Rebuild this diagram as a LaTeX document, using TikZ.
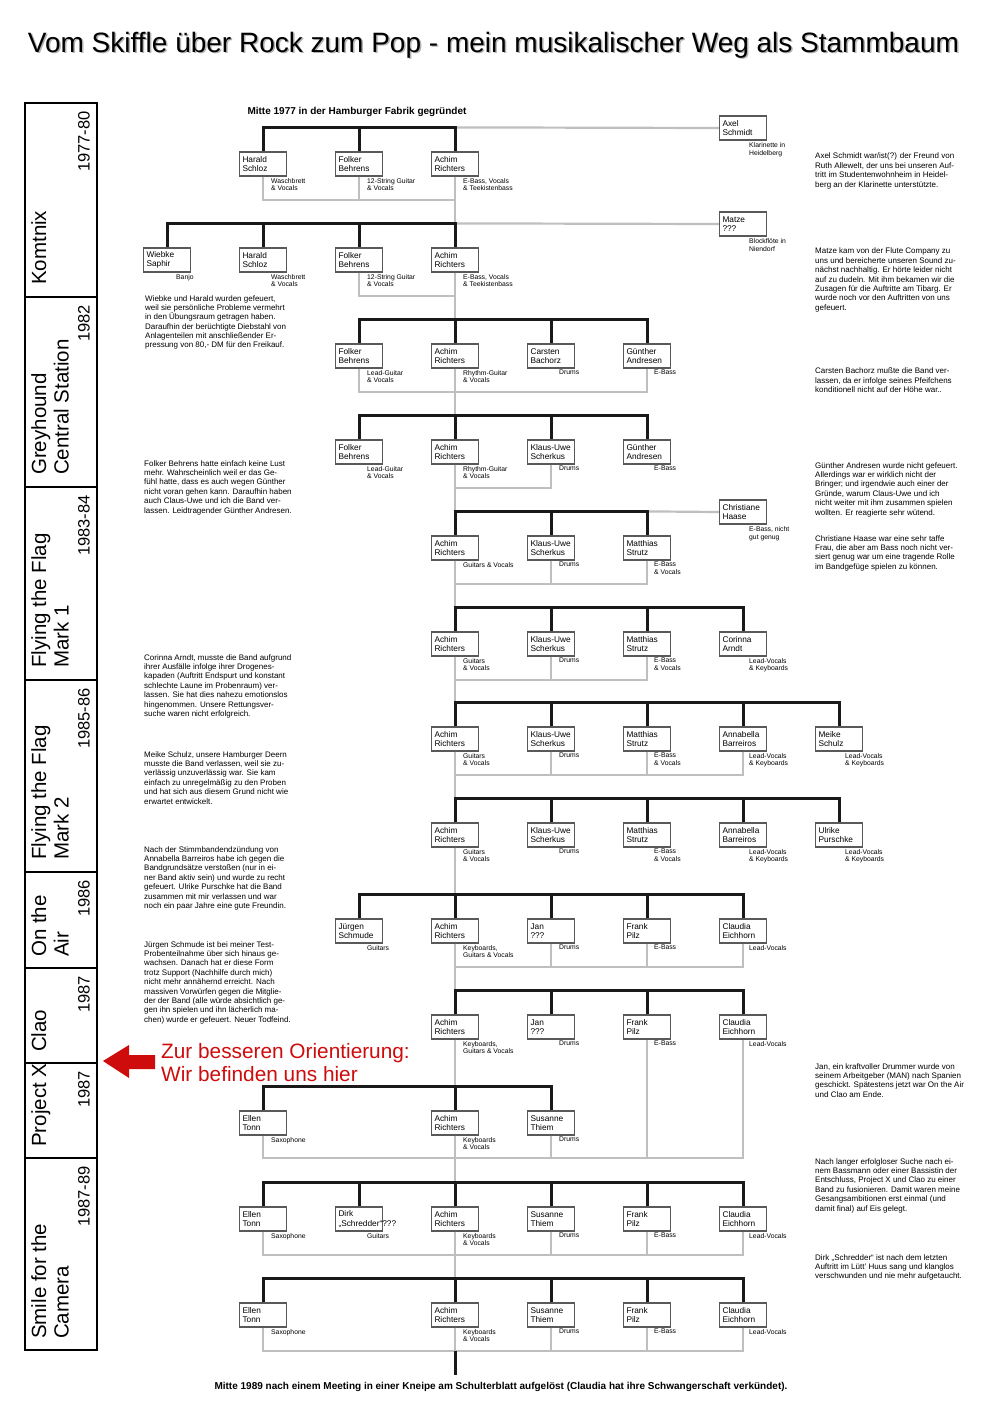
\documentclass[tikz,border=0pt]{standalone}
\usepackage{fontspec}
\setmainfont{Liberation Sans}
\usepackage{xcolor}
\usepackage{tikz}
\usetikzlibrary{positioning}
\definecolor{hintred}{RGB}{206,12,12}

\begin{document}
\begin{tikzpicture}[x=1pt, y=-1pt]
\tikzstyle{member} = [rectangle, draw=black!65, line width=1.2pt, fill=white, minimum width=47pt, minimum height=24pt, text width=41pt, inner sep=3pt, align=left, font=\fontsize{8.3}{9.3}\selectfont]
\tikzstyle{role} = [inner sep=0pt, align=left, font=\fontsize{6.8}{7.7}\selectfont]
\tikzstyle{note} = [anchor=north west, inner sep=0pt, align=left, font=\fontsize{8}{9.4}\selectfont]
\tikzstyle{headline} = [inner sep=0pt, font=\bfseries\fontsize{10}{12}\selectfont]
\tikzstyle{era} = [rotate=90, anchor=north west, inner sep=0pt, align=left, font=\fontsize{20.5}{22.5}\selectfont]
\tikzstyle{year} = [rotate=90, anchor=north east, inner sep=0pt, font=\fontsize{16.5}{18}\selectfont]
\tikzstyle{bar} = [line width=3pt, black!90]
\tikzstyle{stay} = [line width=2.2pt, black!25]

\fill [white] (0,0) rectangle (1002,1410);
\useasboundingbox (0,0) rectangle (1002,1410);

% Title
\node (titleshade) [font=\fontsize{28}{30}\selectfont, text=black!30] at (495,46.5) {Vom Skiffle über Rock zum Pop - mein musikalischer Weg als Stammbaum};
\node (title) [font=\fontsize{28}{30}\selectfont] at (493.5,45) {Vom Skiffle über Rock zum Pop - mein musikalischer Weg als Stammbaum};

% Side bar with the bands
\draw [line width=2.6pt] (25,103) rectangle (97,1350);
\draw [line width=2pt] (25,297) -- (97,297);
\draw [line width=2pt] (25,487) -- (97,487);
\draw [line width=2pt] (25,680) -- (97,680);
\draw [line width=2pt] (25,872) -- (97,872);
\draw [line width=2pt] (25,968) -- (97,968);
\draw [line width=2pt] (25,1063) -- (97,1063);
\draw [line width=2pt] (25,1158) -- (97,1158);

\node (komtnix) [era] at (31,285) {Komtnix};
\node (greyhound) [era] at (31,475) {Greyhound\\Central Station};
\node (mark1) [era] at (31,668) {Flying the Flag\\Mark 1};
\node (mark2) [era] at (31,860) {Flying the Flag\\Mark 2};
\node (ontheair) [era] at (31,957) {On the\\Air};
\node (clao) [era] at (31,1052) {Clao};
\node (projectx) [era] at (31,1147) {Project X};
\node (smile) [era] at (31,1339) {Smile for the\\Camera};

\node (year1) [year] at (78,111) {1977-80};
\node (year2) [year] at (78,305) {1982};
\node (year3) [year] at (78,495) {1983-84};
\node (year4) [year] at (78,688) {1985-86};
\node (year5) [year] at (78,880) {1986};
\node (year6) [year] at (78,976) {1987};
\node (year7) [year] at (78,1071) {1987};
\node (year8) [year] at (78,1166) {1987-89};

% Hint
\fill [hintred] (103,1061) -- (129,1045) -- (129,1055) -- (155,1055) -- (155,1069) -- (129,1069) -- (129,1078) -- cycle;
\node (hint) [anchor=west, inner sep=0pt, align=left, text=hintred, font=\fontsize{20.8}{23}\selectfont] at (161,1063) {Zur besseren Orientierung:\\Wir befinden uns hier};

% Start and end
\node (start) [headline] at (357,112) {Mitte 1977 in der Hamburger Fabrik gegründet};
\node (ende) [headline] at (501,1387) {Mitte 1989 nach einem Meeting in einer Kneipe am Schulterblatt aufgelöst (Claudia hat ihre Schwangerschaft verkündet).};

% Row 1
\node (harald1) [member] at (263,164) {Harald\\Schloz};
\node (folker1) [member] at (359,164) {Folker\\Behrens};
\node (achim1) [member] at (455,164) {Achim\\Richters};
\node (axel) [member] at (743,128) {Axel\\Schmidt};
\node (harald1r) [role, below right=1.5pt and 8pt of harald1.south] {Waschbrett\\\& Vocals};
\node (folker1r) [role, below right=1.5pt and 8pt of folker1.south] {12-String Guitar\\\& Vocals};
\node (achim1r) [role, below right=1.5pt and 8pt of achim1.south] {E-Bass, Vocals\\\& Teekistenbass};
\node (axelr) [role, below right=2pt and 6pt of axel.south] {Klarinette in\\Heidelberg};

% Row 2
\node (wiebke2) [member] at (167,260) {Wiebke\\Saphir};
\node (harald2) [member] at (263,260) {Harald\\Schloz};
\node (folker2) [member] at (359,260) {Folker\\Behrens};
\node (achim2) [member] at (455,260) {Achim\\Richters};
\node (matze) [member] at (743,224) {Matze\\???};
\node (wiebke2r) [role, below right=1.5pt and 9pt of wiebke2.south] {Banjo};
\node (harald2r) [role, below right=1.5pt and 8pt of harald2.south] {Waschbrett\\\& Vocals};
\node (folker2r) [role, below right=1.5pt and 8pt of folker2.south] {12-String Guitar\\\& Vocals};
\node (achim2r) [role, below right=1.5pt and 8pt of achim2.south] {E-Bass, Vocals\\\& Teekistenbass};
\node (matzer) [role, below right=2pt and 6pt of matze.south] {Blockflöte in\\Niendorf};

% Row 3
\node (folker3) [member] at (359,356) {Folker\\Behrens};
\node (achim3) [member] at (455,356) {Achim\\Richters};
\node (carsten3) [member] at (551,356) {Carsten\\Bachorz};
\node (guenther3) [member] at (647,356) {Günther\\Andresen};
\node (folker3r) [role, below right=1.5pt and 8pt of folker3.south] {Lead-Guitar\\\& Vocals};
\node (achim3r) [role, below right=1.5pt and 8pt of achim3.south] {Rhythm-Guitar\\\& Vocals};
\node (carsten3r) [role, below right=1.5pt and 8pt of carsten3.south] {Drums};
\node (guenther3r) [role, below right=1.5pt and 7pt of guenther3.south] {E-Bass};

% Row 4
\node (folker4) [member] at (359,452) {Folker\\Behrens};
\node (achim4) [member] at (455,452) {Achim\\Richters};
\node (klaus4) [member] at (551,452) {Klaus-Uwe\\Scherkus};
\node (guenther4) [member] at (647,452) {Günther\\Andresen};
\node (folker4r) [role, below right=1.5pt and 8pt of folker4.south] {Lead-Guitar\\\& Vocals};
\node (achim4r) [role, below right=1.5pt and 8pt of achim4.south] {Rhythm-Guitar\\\& Vocals};
\node (klaus4r) [role, below right=1.5pt and 8pt of klaus4.south] {Drums};
\node (guenther4r) [role, below right=1.5pt and 7pt of guenther4.south] {E-Bass};

% Row 5
\node (achim5) [member] at (455,548) {Achim\\Richters};
\node (klaus5) [member] at (551,548) {Klaus-Uwe\\Scherkus};
\node (matthias5) [member] at (647,548) {Matthias\\Strutz};
\node (christiane) [member] at (743,512) {Christiane\\Haase};
\node (achim5r) [role, below right=1.5pt and 8pt of achim5.south] {Guitars \& Vocals};
\node (klaus5r) [role, below right=1.5pt and 8pt of klaus5.south] {Drums};
\node (matthias5r) [role, below right=1.5pt and 7pt of matthias5.south] {E-Bass\\\& Vocals};
\node (christianer) [role, below right=2pt and 6pt of christiane.south] {E-Bass, nicht\\gut genug};

% Row 6
\node (achim6) [member] at (455,644) {Achim\\Richters};
\node (klaus6) [member] at (551,644) {Klaus-Uwe\\Scherkus};
\node (matthias6) [member] at (647,644) {Matthias\\Strutz};
\node (corinna6) [member] at (743,644) {Corinna\\Arndt};
\node (achim6r) [role, below right=1.5pt and 8pt of achim6.south] {Guitars\\\& Vocals};
\node (klaus6r) [role, below right=1.5pt and 8pt of klaus6.south] {Drums};
\node (matthias6r) [role, below right=1.5pt and 7pt of matthias6.south] {E-Bass\\\& Vocals};
\node (corinna6r) [role, below right=1.5pt and 6pt of corinna6.south] {Lead-Vocals\\\& Keyboards};

% Row 7
\node (achim7) [member] at (455,739) {Achim\\Richters};
\node (klaus7) [member] at (551,739) {Klaus-Uwe\\Scherkus};
\node (matthias7) [member] at (647,739) {Matthias\\Strutz};
\node (annabella7) [member] at (743,739) {Annabella\\Barreiros};
\node (meike7) [member] at (839,739) {Meike\\Schulz};
\node (achim7r) [role, below right=1.5pt and 8pt of achim7.south] {Guitars\\\& Vocals};
\node (klaus7r) [role, below right=1.5pt and 8pt of klaus7.south] {Drums};
\node (matthias7r) [role, below right=1.5pt and 7pt of matthias7.south] {E-Bass\\\& Vocals};
\node (annabella7r) [role, below right=1.5pt and 6pt of annabella7.south] {Lead-Vocals\\\& Keyboards};
\node (meike7r) [role, below right=1.5pt and 6pt of meike7.south] {Lead-Vocals\\\& Keyboards};

% Row 8
\node (achim8) [member] at (455,835) {Achim\\Richters};
\node (klaus8) [member] at (551,835) {Klaus-Uwe\\Scherkus};
\node (matthias8) [member] at (647,835) {Matthias\\Strutz};
\node (annabella8) [member] at (743,835) {Annabella\\Barreiros};
\node (ulrike8) [member] at (839,835) {Ulrike\\Purschke};
\node (achim8r) [role, below right=1.5pt and 8pt of achim8.south] {Guitars\\\& Vocals};
\node (klaus8r) [role, below right=1.5pt and 8pt of klaus8.south] {Drums};
\node (matthias8r) [role, below right=1.5pt and 7pt of matthias8.south] {E-Bass\\\& Vocals};
\node (annabella8r) [role, below right=1.5pt and 6pt of annabella8.south] {Lead-Vocals\\\& Keyboards};
\node (ulrike8r) [role, below right=1.5pt and 6pt of ulrike8.south] {Lead-Vocals\\\& Keyboards};

% Row 9
\node (juergen9) [member] at (359,931) {Jürgen\\Schmude};
\node (achim9) [member] at (455,931) {Achim\\Richters};
\node (jan9) [member] at (551,931) {Jan\\???};
\node (frank9) [member] at (647,931) {Frank\\Pilz};
\node (claudia9) [member] at (743,931) {Claudia\\Eichhorn};
\node (juergen9r) [role, below right=1.5pt and 8pt of juergen9.south] {Guitars};
\node (achim9r) [role, below right=1.5pt and 8pt of achim9.south] {Keyboards,\\Guitars \& Vocals};
\node (jan9r) [role, below right=1.5pt and 8pt of jan9.south] {Drums};
\node (frank9r) [role, below right=1.5pt and 7pt of frank9.south] {E-Bass};
\node (claudia9r) [role, below right=1.5pt and 6pt of claudia9.south] {Lead-Vocals};

% Row 10
\node (achim10) [member] at (455,1027) {Achim\\Richters};
\node (jan10) [member] at (551,1027) {Jan\\???};
\node (frank10) [member] at (647,1027) {Frank\\Pilz};
\node (claudia10) [member] at (743,1027) {Claudia\\Eichhorn};
\node (achim10r) [role, below right=1.5pt and 8pt of achim10.south] {Keyboards,\\Guitars \& Vocals};
\node (jan10r) [role, below right=1.5pt and 8pt of jan10.south] {Drums};
\node (frank10r) [role, below right=1.5pt and 7pt of frank10.south] {E-Bass};
\node (claudia10r) [role, below right=1.5pt and 6pt of claudia10.south] {Lead-Vocals};

% Row 11
\node (ellen11) [member] at (263,1123) {Ellen\\Tonn};
\node (achim11) [member] at (455,1123) {Achim\\Richters};
\node (susanne11) [member] at (551,1123) {Susanne\\Thiem};
\node (ellen11r) [role, below right=1.5pt and 8pt of ellen11.south] {Saxophone};
\node (achim11r) [role, below right=1.5pt and 8pt of achim11.south] {Keyboards\\\& Vocals};
\node (susanne11r) [role, below right=1.5pt and 8pt of susanne11.south] {Drums};

% Row 12
\node (ellen12) [member] at (263,1219) {Ellen\\Tonn};
\node (dirk12) [member] at (359,1219) {Dirk\\\mbox{„Schredder“???}};
\node (achim12) [member] at (455,1219) {Achim\\Richters};
\node (susanne12) [member] at (551,1219) {Susanne\\Thiem};
\node (frank12) [member] at (647,1219) {Frank\\Pilz};
\node (claudia12) [member] at (743,1219) {Claudia\\Eichhorn};
\node (ellen12r) [role, below right=1.5pt and 8pt of ellen12.south] {Saxophone};
\node (dirk12r) [role, below right=1.5pt and 8pt of dirk12.south] {Guitars};
\node (achim12r) [role, below right=1.5pt and 8pt of achim12.south] {Keyboards\\\& Vocals};
\node (susanne12r) [role, below right=1.5pt and 8pt of susanne12.south] {Drums};
\node (frank12r) [role, below right=1.5pt and 7pt of frank12.south] {E-Bass};
\node (claudia12r) [role, below right=1.5pt and 6pt of claudia12.south] {Lead-Vocals};

% Row 13
\node (ellen13) [member] at (263,1315) {Ellen\\Tonn};
\node (achim13) [member] at (455,1315) {Achim\\Richters};
\node (susanne13) [member] at (551,1315) {Susanne\\Thiem};
\node (frank13) [member] at (647,1315) {Frank\\Pilz};
\node (claudia13) [member] at (743,1315) {Claudia\\Eichhorn};
\node (ellen13r) [role, below right=1.5pt and 8pt of ellen13.south] {Saxophone};
\node (achim13r) [role, below right=1.5pt and 8pt of achim13.south] {Keyboards\\\& Vocals};
\node (susanne13r) [role, below right=1.5pt and 8pt of susanne13.south] {Drums};
\node (frank13r) [role, below right=1.5pt and 7pt of frank13.south] {E-Bass};
\node (claudia13r) [role, below right=1.5pt and 6pt of claudia13.south] {Lead-Vocals};

% Notes right
\node (noteaxel) [note] at (815,153) {Axel Schmidt war/ist(?) der Freund von\\Ruth Allewelt, der uns bei unseren Auf-\\tritt im Studentenwohnheim in Heidel-\\berg an der Klarinette unterstützte.};
\node (notematze) [note] at (815,248) {Matze kam von der Flute Company zu\\uns und bereicherte unseren Sound zu-\\nächst nachhaltig. Er hörte leider nicht\\auf zu dudeln. Mit ihm bekamen wir die\\Zusagen für die Auftritte am Tibarg. Er\\wurde noch vor den Auftritten von uns\\gefeuert.};
\node (notecarsten) [note] at (815,368) {Carsten Bachorz mußte die Band ver-\\lassen, da er infolge seines Pfeifchens\\konditionell nicht auf der Höhe war..};
\node (noteguenther) [note] at (815,462) {Günther Andresen wurde nicht gefeuert.\\Allerdings war er wirklich nicht der\\Bringer; und irgendwie auch einer der\\Gründe, warum Claus-Uwe und ich\\nicht weiter mit ihm zusammen spielen\\wollten. Er reagierte sehr wütend.};
\node (notechristiane) [note] at (815,535) {Christiane Haase war eine sehr taffe\\Frau, die aber am Bass noch nicht ver-\\siert genug war um eine tragende Rolle\\im Bandgefüge spielen zu können.};
\node (notejan) [note] at (815,1063) {Jan, ein kraftvoller Drummer wurde von\\seinem Arbeitgeber (MAN) nach Spanien\\geschickt. Spätestens jetzt war On the Air\\und Clao am Ende.};
\node (notefusion) [note] at (815,1158) {Nach langer erfolgloser Suche nach ei-\\nem Bassmann oder einer Bassistin der\\Entschluss, Project X und Clao zu einer\\Band zu fusionieren. Damit waren meine\\Gesangsambitionen erst einmal (und\\damit final) auf Eis gelegt.};
\node (notedirk) [note] at (815,1254) {Dirk „Schredder“ ist nach dem letzten\\Auftritt im Lütt' Huus sang und klanglos\\verschwunden und nie mehr aufgetaucht.};

% Notes left
\node (notewiebke) [note] at (145,295) {Wiebke und Harald wurden gefeuert,\\weil sie persönliche Probleme vermehrt\\in den Übungsraum getragen haben.\\Daraufhin der berüchtigte Diebstahl von\\Anlagenteilen mit anschließender Er-\\pressung von 80,- DM für den Freikauf.};
\node (notefolker) [note] at (144,460) {Folker Behrens hatte einfach keine Lust\\mehr. Wahrscheinlich weil er das Ge-\\fühl hatte, dass es auch wegen Günther\\nicht voran gehen kann. Daraufhin haben\\auch Claus-Uwe und ich die Band ver-\\lassen. Leidtragender Günther Andresen.};
\node (notecorinna) [note] at (144,654) {Corinna Arndt, musste die Band aufgrund\\ihrer Ausfälle infolge ihrer Drogenes-\\kapaden (Auftritt Endspurt und konstant\\schlechte Laune im Probenraum) ver-\\lassen. Sie hat dies nahezu emotionslos\\hingenommen. Unsere Rettungsver-\\suche waren nicht erfolgreich.};
\node (notemeike) [note] at (144,751) {Meike Schulz, unsere Hamburger Deern\\musste die Band verlassen, weil sie zu-\\verlässig unzuverlässig war. Sie kam\\einfach zu unregelmäßig zu den Proben\\und hat sich aus diesem Grund nicht wie\\erwartet entwickelt.};
\node (noteannabella) [note] at (144,846) {Nach der Stimmbandendzündung von\\Annabella Barreiros habe ich gegen die\\Bandgrundsätze verstoßen (nur in ei-\\ner Band aktiv sein) und wurde zu recht\\gefeuert. Ulrike Purschke hat die Band\\zusammen mit mir verlassen und war\\noch ein paar Jahre eine gute Freundin.};
\node (notejuergen) [note] at (144,941) {Jürgen Schmude ist bei meiner Test-\\Probenteilnahme über sich hinaus ge-\\wachsen. Danach hat er diese Form\\trotz Support (Nachhilfe durch mich)\\nicht mehr annähernd erreicht. Nach\\massiven Vorwürfen gegen die Mitglie-\\der der Band (alle würde absichtlich ge-\\gen ihn spielen und ihn lächerlich ma-\\chen) wurde er gefeuert. Neuer Todfeind.};

% Who stays (grey)
\draw [stay] (achim1.north) ++(0,-24) -- (axel.west);
\draw [stay] (harald1.south) -- ++(0,23) -| (achim1.south);
\draw [stay] (folker1.south) -- ++(0,23);
\draw [stay] (achim1.south) -- (achim2.north);
\draw [stay] (achim2.north) ++(0,-24) -- (matze.west);
\draw [stay] (folker2.south) -- ++(0,23) -| (achim2.south);
\draw [stay] (achim2.south) -- (achim3.north);
\draw [stay] (folker3.south) -- ++(0,23) -| (guenther3.south);
\draw [stay] (achim3.south) -- (achim4.north);
\draw [stay] (klaus4.south) -- ++(0,23) -| (achim4.south);
\draw [stay] (achim4.south) -- (achim5.north);
\draw [stay] (matthias5.north) ++(0,-24) -- (christiane.west);
\draw [stay] (matthias5.south) -- ++(0,23) -| (achim5.south);
\draw [stay] (klaus5.south) -- ++(0,23);
\draw [stay] (achim5.south) -- (achim6.north);
\draw [stay] (matthias6.south) -- ++(0,23) -| (achim6.south);
\draw [stay] (klaus6.south) -- ++(0,23);
\draw [stay] (achim6.south) -- (achim7.north);
\draw [stay] (annabella7.south) -- ++(0,23) -| (achim7.south);
\draw [stay] (klaus7.south) -- ++(0,23);
\draw [stay] (matthias7.south) -- ++(0,23);
\draw [stay] (achim7.south) -- (achim8.north);
\draw [stay] (achim8.south) -- (achim9.north);
\draw [stay] (claudia9.south) -- ++(0,23) -| (achim9.south);
\draw [stay] (jan9.south) -- ++(0,23);
\draw [stay] (frank9.south) -- ++(0,23);
\draw [stay] (achim9.south) -- (achim10.north);
\draw [stay] (achim10.south) -- (achim11.north);
\draw [stay] (ellen11.south) -- ++(0,22) coordinate (fusion) -| (claudia10.south);
\draw [stay] (frank10.south) -- (frank10.south |- fusion);
\draw [stay] (susanne11.south) -- (susanne11.south |- fusion);
\draw [stay] (achim11.south) -- (achim12.north);
\draw [stay] (ellen12.south) -- ++(0,23) -| (claudia12.south);
\draw [stay] (susanne12.south) -- ++(0,23);
\draw [stay] (frank12.south) -- ++(0,23);
\draw [stay] (achim12.south) -- (achim13.north);
\draw [stay] (ellen13.south) -- ++(0,23) coordinate (split) -| (claudia13.south);
\draw [stay] (susanne13.south) -- ++(0,23);
\draw [stay] (frank13.south) -- ++(0,23);
\draw [stay] (achim13.south) -- (achim13.south |- split);

% Line-ups (black)
\draw [bar] (harald1.north) -- ++(0,-24) -| (achim1.north);
\draw [bar] (folker1.north) -- ++(0,-24);
\draw [bar] (wiebke2.north) -- ++(0,-24) -| (achim2.north);
\draw [bar] (harald2.north) -- ++(0,-24);
\draw [bar] (folker2.north) -- ++(0,-24);
\draw [bar] (folker3.north) -- ++(0,-24) -| (guenther3.north);
\draw [bar] (achim3.north) -- ++(0,-24);
\draw [bar] (carsten3.north) -- ++(0,-24);
\draw [bar] (folker4.north) -- ++(0,-24) -| (guenther4.north);
\draw [bar] (achim4.north) -- ++(0,-24);
\draw [bar] (klaus4.north) -- ++(0,-24);
\draw [bar] (achim5.north) -- ++(0,-24) -| (matthias5.north);
\draw [bar] (klaus5.north) -- ++(0,-24);
\draw [bar] (achim6.north) -- ++(0,-24) -| (corinna6.north);
\draw [bar] (klaus6.north) -- ++(0,-24);
\draw [bar] (matthias6.north) -- ++(0,-24);
\draw [bar] (achim7.north) -- ++(0,-24) -| (meike7.north);
\draw [bar] (klaus7.north) -- ++(0,-24);
\draw [bar] (matthias7.north) -- ++(0,-24);
\draw [bar] (annabella7.north) -- ++(0,-24);
\draw [bar] (achim8.north) -- ++(0,-24) -| (ulrike8.north);
\draw [bar] (klaus8.north) -- ++(0,-24);
\draw [bar] (matthias8.north) -- ++(0,-24);
\draw [bar] (annabella8.north) -- ++(0,-24);
\draw [bar] (juergen9.north) -- ++(0,-24) -| (claudia9.north);
\draw [bar] (achim9.north) -- ++(0,-24);
\draw [bar] (jan9.north) -- ++(0,-24);
\draw [bar] (frank9.north) -- ++(0,-24);
\draw [bar] (achim10.north) -- ++(0,-24) -| (claudia10.north);
\draw [bar] (jan10.north) -- ++(0,-24);
\draw [bar] (frank10.north) -- ++(0,-24);
\draw [bar] (ellen11.north) -- ++(0,-24) -| (susanne11.north);
\draw [bar] (achim11.north) -- ++(0,-24);
\draw [bar] (ellen12.north) -- ++(0,-24) -| (claudia12.north);
\draw [bar] (dirk12.north) -- ++(0,-24);
\draw [bar] (achim12.north) -- ++(0,-24);
\draw [bar] (susanne12.north) -- ++(0,-24);
\draw [bar] (frank12.north) -- ++(0,-24);
\draw [bar] (ellen13.north) -- ++(0,-24) -| (claudia13.north);
\draw [bar] (achim13.north) -- ++(0,-24);
\draw [bar] (susanne13.north) -- ++(0,-24);
\draw [bar] (frank13.north) -- ++(0,-24);
\draw [bar] (achim13.south |- split) -- ++(0,24);

\end{tikzpicture}
\end{document}
